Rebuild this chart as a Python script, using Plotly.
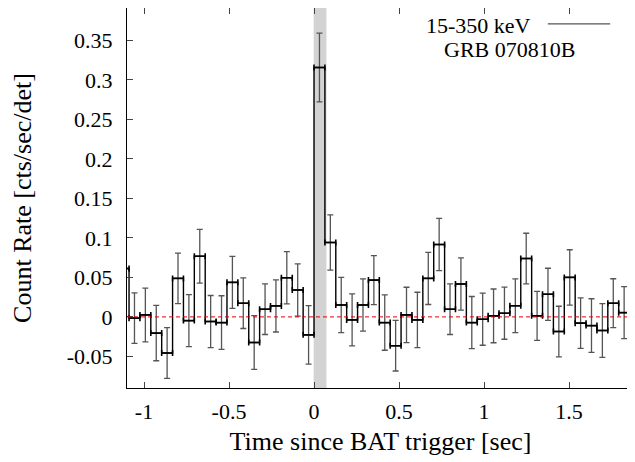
import plotly.graph_objects as go

# Light curve bins (64 ms), bin centres in seconds since trigger
time = [-1.120, -1.056, -0.992, -0.928, -0.864, -0.800, -0.736, -0.672,
        -0.608, -0.544, -0.480, -0.416, -0.352, -0.288, -0.224, -0.160,
        -0.096, -0.032, 0.032, 0.096, 0.160, 0.224, 0.288, 0.352,
        0.416, 0.480, 0.544, 0.608, 0.672, 0.736, 0.800, 0.864,
        0.928, 0.992, 1.056, 1.120, 1.184, 1.248, 1.312, 1.376,
        1.440, 1.504, 1.568, 1.632, 1.696, 1.760, 1.824, 1.888]
rate = [0.0613, -0.0016, 0.0025, -0.0205, -0.0457, 0.0487, -0.0047, 0.0768,
        -0.0059, -0.0072, 0.0437, 0.0173, -0.0324, 0.0097, 0.0139, 0.0495,
        0.0340, -0.0227, 0.3157, 0.0941, 0.0151, -0.0038, 0.0151, 0.0466,
        -0.0072, -0.0365, 0.0025, -0.0038, 0.0487, 0.0916, 0.0097, 0.0416,
        -0.0072, -0.0029, 0.0013, 0.0047, 0.0142, 0.0739, 0.0013, 0.0286,
        -0.0185, 0.0500, -0.0079, -0.0110, -0.0173, 0.0173, 0.0054, -0.0520]
rate_err = [0.033, 0.032, 0.034, 0.035, 0.032, 0.032, 0.033, 0.034,
            0.033, 0.034, 0.033, 0.032, 0.034, 0.032, 0.033, 0.033,
            0.033, 0.037, 0.0435, 0.035, 0.035, 0.033, 0.033, 0.031,
            0.035, 0.032, 0.035, 0.035, 0.033, 0.033, 0.032, 0.033,
            0.033, 0.033, 0.034, 0.033, 0.034, 0.032, 0.031, 0.033,
            0.032, 0.035, 0.032, 0.034, 0.034, 0.031, 0.033, 0.033]
bin_half = [0.032] * len(time)

# T90 interval (gray band)
t90 = [-0.002, 0.073]

font = "Liberation Serif, Times New Roman, serif"

fig = go.Figure()

# shaded burst interval
fig.add_vrect(x0=t90[0], x1=t90[1], fillcolor="#d3d3d3", opacity=1,
              line_width=0, layer="below")

# zero line
fig.add_hline(y=0, line=dict(color="#e00000", width=1, dash="4px,3px"))

# error bars
fig.add_trace(go.Scatter(
    x=time, y=rate, mode="markers",
    marker=dict(size=1, color="black"),
    error_y=dict(type="data", array=rate_err, color="#555555",
                 thickness=1.3, width=3),
    error_x=dict(type="data", array=bin_half, color="black",
                 thickness=1.6, width=3),
    showlegend=False,
))

# histogram steps
fig.add_trace(go.Scatter(
    x=time, y=rate, mode="lines",
    line=dict(shape="hvh", color="black", width=1.4),
    showlegend=False,
))

fig.update_xaxes(
    range=[-1.1, 1.882], tickvals=[-1, -0.5, 0, 0.5, 1, 1.5],
    ticktext=["-1", "-0.5", "0", "0.5", "1", "1.5"],
    ticks="inside", ticklen=6, tickcolor="#444", mirror="ticks",
    showline=True, linecolor="black", linewidth=1.2,
    showgrid=False, zeroline=False, automargin=False,
    ticklabelstandoff=3, tickfont=dict(size=22),
    title=dict(text="Time since BAT trigger [sec]", standoff=9),
)
fig.update_yaxes(
    range=[-0.09, 0.391],
    tickvals=[-0.05, 0, 0.05, 0.1, 0.15, 0.2, 0.25, 0.3, 0.35],
    ticktext=["-0.05", "0", "0.05", "0.1", "0.15", "0.2", "0.25", "0.3", "0.35"],
    ticks="inside", ticklen=6, tickcolor="#444", mirror="ticks",
    showline=True, linecolor="black", linewidth=1.2,
    showgrid=False, zeroline=False, automargin=False,
    ticklabelstandoff=9, tickfont=dict(size=22),
    title=dict(text="Count Rate [cts/sec/det]", standoff=30),
)

# key
fig.add_annotation(x=0.801, y=0.955, xref="paper", yref="paper",
                   text="15-350 keV", showarrow=False,
                   xanchor="right", yanchor="middle",
                   font=dict(size=22, color="black", family=font))
fig.add_shape(type="line", xref="paper", yref="paper",
              x0=0.830, x1=0.953, y0=0.958, y1=0.958,
              line=dict(color="#555555", width=1.2))
fig.add_annotation(x=0.754, y=0.892, xref="paper", yref="paper",
                   text="GRB 070810B", showarrow=False,
                   xanchor="center", yanchor="middle",
                   font=dict(size=22, color="black", family=font))

# page body adds an 8px margin, so the figure is 8px smaller
fig.update_layout(
    width=627, height=454,
    margin=dict(l=119, r=1, t=0, b=74),
    plot_bgcolor="white", paper_bgcolor="white",
    font=dict(family=font, size=22, color="black"),
)

fig.write_html("out.html")
